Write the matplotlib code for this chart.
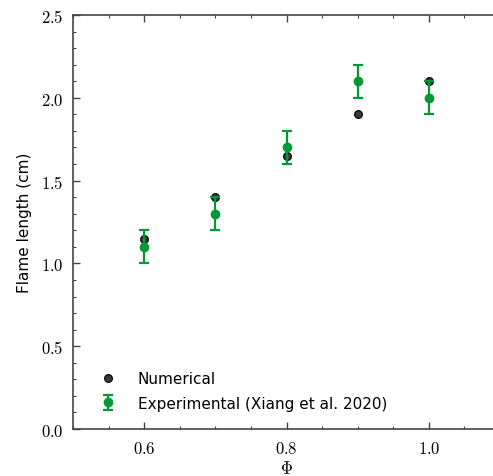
import matplotlib
matplotlib.use("Agg")
import matplotlib.pyplot as plt
from matplotlib.ticker import MultipleLocator, FuncFormatter

plt.rcParams["mathtext.fontset"] = "cm"
plt.rcParams["font.family"] = "DejaVu Sans"

phi = [0.6, 0.7, 0.8, 0.9, 1.0]
numerical = [1.15, 1.40, 1.65, 1.90, 2.10]
experimental = [1.10, 1.30, 1.70, 2.10, 2.00]
exp_err = [0.1, 0.1, 0.1, 0.1, 0.1]

fig = plt.figure(figsize=(4.93, 4.77), dpi=100)
ax = fig.add_axes([73 / 493, 47 / 477, 427 / 493, 414 / 477])

ax.plot(phi, numerical, "o", color="#3a3a3a", mec="#111111", ms=5.5, label="Numerical", zorder=2)
ax.errorbar(phi, experimental, yerr=exp_err, fmt="o", color="#009933", ms=6,
            elinewidth=1.6, capsize=3.5, capthick=1.6, label="Experimental (Xiang et al. 2020)", zorder=3)

ax.set_xlim(0.5, 1.1)
ax.set_ylim(0, 2.5)
ax.xaxis.set_major_locator(MultipleLocator(0.2))
ax.xaxis.set_minor_locator(MultipleLocator(0.05))
ax.yaxis.set_major_locator(MultipleLocator(0.5))
ax.yaxis.set_minor_locator(MultipleLocator(0.1))
fmt = FuncFormatter(lambda v, p: f"${v:.1f}$")
ax.xaxis.set_major_formatter(fmt)
ax.yaxis.set_major_formatter(fmt)
ax.tick_params(which="both", direction="in", top=True, right=True, labelsize=12, color="#444444")
ax.tick_params(which="major", length=5, width=1, pad=7)
ax.tick_params(which="minor", length=2.5, width=0.8)
for s in ax.spines.values():
    s.set_color("#444444")
    s.set_linewidth(1.2)

ax.set_xlabel(r"$\Phi$", fontsize=12, labelpad=2)
ax.set_ylabel("Flame length (cm)", fontsize=11, labelpad=6)
ax.legend(loc="lower left", bbox_to_anchor=(0.01, 0), frameon=False, fontsize=11,
          handletextpad=1.15, labelspacing=0.6, borderpad=0.7, handlelength=1.6)

fig.savefig("out.png", dpi=100)
